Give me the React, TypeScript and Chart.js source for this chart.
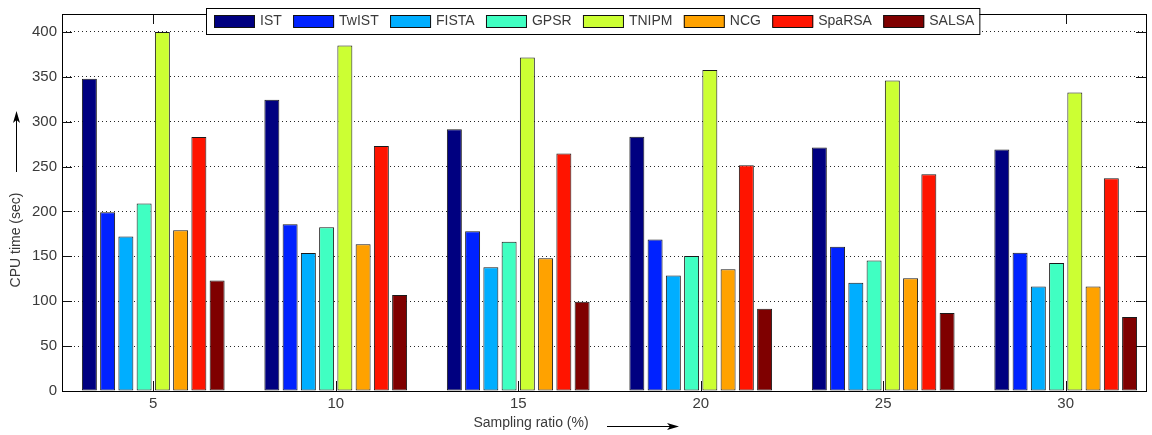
import { useEffect, useRef } from "react";
import { Chart, registerables } from "chart.js";

Chart.register(...registerables);

// Sampling ratios (%) on the x axis
const ratios = [5, 10, 15, 20, 25, 30];
const methods = ["IST", "TwIST", "FISTA", "GPSR", "TNIPM", "NCG", "SpaRSA", "SALSA"];
const colors = ["#000080", "#0022FF", "#00AEFF", "#40FFC2", "#CCFF33", "#FFA200", "#FF1400", "#7F0000"];

// CPU time (sec) per method
const ist = [348, 324.5, 291.6, 283.2, 271.4, 269];
const twist = [199, 185.7, 178, 168.9, 160.8, 154];
const fista = [172, 153.8, 138, 128.6, 120.5, 116.5];
const gpsr = [209, 182.4, 166.3, 150.5, 145.4, 142.5];
const tnipm = [400, 385, 371.4, 357.5, 346, 332.6];
const ncg = [179, 163.4, 148, 135.5, 125.6, 116.5];
const sparsa = [283, 272.9, 264.5, 251.6, 241.4, 237];
const salsa = [123, 107, 99.3, 91.6, 86.8, 82.4];

const series = [ist, twist, fista, gpsr, tnipm, ncg, sparsa, salsa];
const yTicks = [0, 50, 100, 150, 200, 250, 300, 350, 400];

const FONT = "'Liberation Sans', Arial, sans-serif";
const TEXT = "#3a3a3a";

function arrowHead(ctx: CanvasRenderingContext2D, x: number, y: number, dir: "up" | "right") {
  ctx.beginPath();
  if (dir === "up") {
    ctx.moveTo(x, y);
    ctx.lineTo(x - 3.5, y + 12);
    ctx.lineTo(x, y + 9);
    ctx.lineTo(x + 3.5, y + 12);
  } else {
    ctx.moveTo(x, y);
    ctx.lineTo(x - 12, y - 3.5);
    ctx.lineTo(x - 9, y);
    ctx.lineTo(x - 12, y + 3.5);
  }
  ctx.closePath();
  ctx.fill();
}

const framePlugin = {
  id: "frame",
  afterDatasetsDraw(chart: any) {
    const { ctx, chartArea: a, scales } = chart;
    ctx.save();
    ctx.strokeStyle = "#111";
    ctx.lineWidth = 1;
    // inward tick marks on all four sides
    ctx.beginPath();
    for (const v of yTicks) {
      const y = Math.round(scales.y.getPixelForValue(v)) + 0.5;
      ctx.moveTo(a.left, y);
      ctx.lineTo(a.left + 10, y);
      ctx.moveTo(a.right, y);
      ctx.lineTo(a.right - 10, y);
    }
    for (const v of ratios) {
      const x = Math.round(scales.x.getPixelForValue(v)) + 0.5;
      ctx.moveTo(x, a.bottom);
      ctx.lineTo(x, a.bottom - 10);
      ctx.moveTo(x, a.top);
      ctx.lineTo(x, a.top + 10);
    }
    ctx.stroke();
    ctx.strokeStyle = "#000";
    ctx.strokeRect(Math.round(a.left) + 0.5, Math.round(a.top) + 0.5, Math.round(a.width), Math.round(a.height));

    // legend box
    ctx.font = `14px ${FONT}`;
    ctx.textBaseline = "middle";
    ctx.textAlign = "left";
    const boxLeft = 206;
    const boxTop = 8;
    const boxH = 26;
    const gap = 11.3;
    let x = boxLeft + 8;
    const items: { x: number; tx: number }[] = [];
    methods.forEach((m) => {
      const tx = x + 41 + 5;
      items.push({ x, tx });
      x = tx + ctx.measureText(m).width + gap;
    });
    const boxRight = x - gap + 5;
    ctx.fillStyle = "#fff";
    ctx.fillRect(boxLeft, boxTop, boxRight - boxLeft, boxH);
    ctx.strokeStyle = "#000";
    ctx.strokeRect(boxLeft + 0.5, boxTop + 0.5, boxRight - boxLeft, boxH);
    methods.forEach((m, i) => {
      const it = items[i];
      ctx.fillStyle = colors[i];
      ctx.fillRect(it.x, boxTop + 7, 41, 12);
      ctx.strokeStyle = "#111";
      ctx.strokeRect(it.x + 0.5, boxTop + 7.5, 40, 12);
      ctx.fillStyle = TEXT;
      ctx.fillText(m, it.tx, boxTop + 13.5);
    });

    // axis titles with arrows
    ctx.fillStyle = TEXT;
    ctx.strokeStyle = "#000";
    ctx.font = `14px ${FONT}`;
    ctx.textAlign = "center";
    const cx = (a.left + a.right) / 2;
    ctx.fillText("Sampling ratio (%)", cx - 73, 423);
    ctx.beginPath();
    ctx.moveTo(cx + 3, 426.5);
    ctx.lineTo(cx + 70, 426.5);
    ctx.stroke();
    ctx.fillStyle = "#000";
    arrowHead(ctx, cx + 75, 426.5, "right");

    ctx.save();
    ctx.translate(16, 240);
    ctx.rotate(-Math.PI / 2);
    ctx.fillStyle = TEXT;
    ctx.fillText("CPU time (sec)", 0, 0);
    ctx.restore();
    ctx.beginPath();
    ctx.moveTo(16.5, 172);
    ctx.lineTo(16.5, 118);
    ctx.stroke();
    ctx.fillStyle = "#000";
    arrowHead(ctx, 16.5, 111, "up");
    ctx.restore();
  },
};

export default function App() {
  const ref = useRef<HTMLCanvasElement>(null);

  useEffect(() => {
    document.body.style.margin = "0";
    const canvas = ref.current;
    if (!canvas) return;
    const chart = new Chart(canvas, {
      type: "bar",
      data: {
        datasets: methods.map((m, i) => ({
          label: m,
          data: ratios.map((r, j) => ({ x: r, y: series[i][j] })),
          backgroundColor: colors[i],
          borderColor: "#1a1a1a",
          borderWidth: 1,
          borderSkipped: false,
          categoryPercentage: 0.8,
          barPercentage: 0.82,
        })),
      },
      options: {
        responsive: false,
        animation: false,
        devicePixelRatio: 1,
        layout: { padding: { top: 9, right: 6, left: 0, bottom: 0 } },
        plugins: { legend: { display: false }, tooltip: { enabled: false } },
        scales: {
          x: {
            type: "linear",
            offset: false,
            min: 2.5,
            max: 32.2,
            afterBuildTicks: (axis: any) => {
              axis.ticks = ratios.map((v) => ({ value: v }));
            },
            afterFit: (s: any) => {
              s.height = 44;
            },
            grid: { display: false, drawTicks: false, offset: false },
            border: { display: false },
            ticks: { padding: 4, color: TEXT, font: { size: 15, family: FONT } },
          },
          y: {
            min: 0,
            max: 420,
            afterBuildTicks: (axis: any) => {
              axis.ticks = yTicks.map((v) => ({ value: v }));
            },
            afterFit: (s: any) => {
              s.width = 62;
            },
            grid: {
              color: (c: any) => (c.tick && c.tick.value === 0 ? "rgba(0,0,0,0)" : "rgba(0,0,0,0.85)"),
              lineWidth: 1,
              drawTicks: false,
            },
            border: { display: false, dash: [1, 3] },
            ticks: { padding: 5, color: TEXT, font: { size: 15, family: FONT } },
          },
        },
      },
      plugins: [framePlugin],
    });
    return () => chart.destroy();
  }, []);

  return (
    <div style={{ width: 1152, height: 435 }}>
      <canvas ref={ref} width={1152} height={435} style={{ display: "block" }} />
    </div>
  );
}
